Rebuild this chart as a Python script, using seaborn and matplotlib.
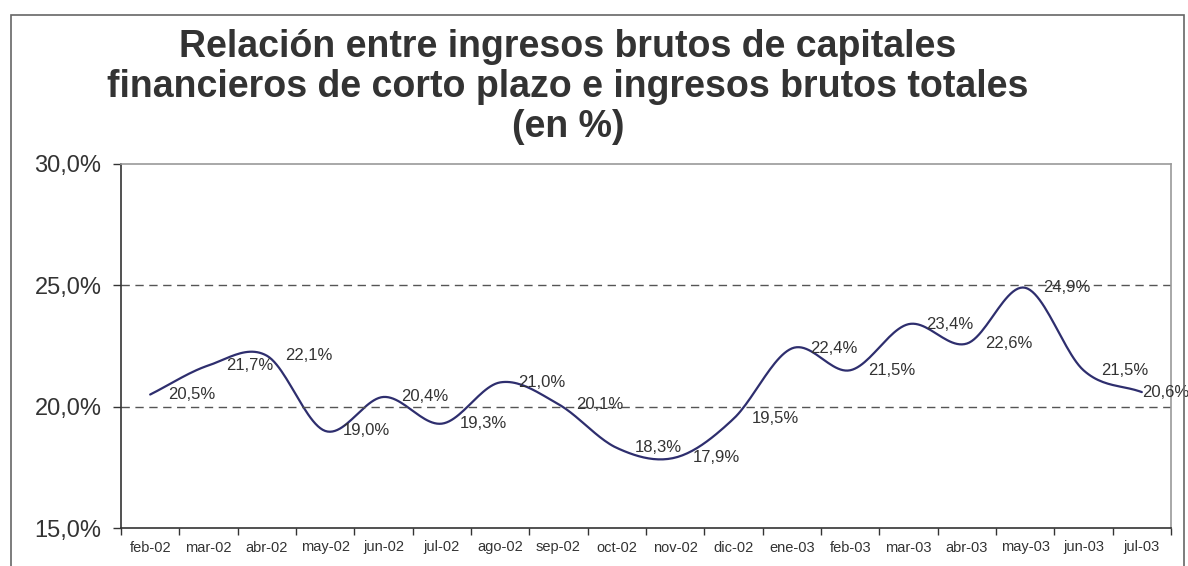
import numpy as np
import pandas as pd
import matplotlib
matplotlib.use('Agg')
import matplotlib.pyplot as plt
from matplotlib.ticker import FuncFormatter, FixedLocator
from matplotlib.patches import Rectangle
import seaborn as sns

# datos
meses = ['feb-02', 'mar-02', 'abr-02', 'may-02', 'jun-02', 'jul-02', 'ago-02', 'sep-02',
         'oct-02', 'nov-02', 'dic-02', 'ene-03', 'feb-03', 'mar-03', 'abr-03', 'may-03',
         'jun-03', 'jul-03']
relacion = [20.5, 21.7, 22.1, 19.0, 20.4, 19.3, 21.0, 20.1, 18.3, 17.9, 19.5, 22.4,
            21.5, 23.4, 22.6, 24.9, 21.5, 20.6]

titulo = 'Relación entre ingresos brutos de capitales\nfinancieros de corto plazo e ingresos brutos totales\n(en %)'

sns.set_style('white')
plt.rcParams['font.family'] = ['Liberation Sans', 'DejaVu Sans']

color_linea = '#2e2e6e'
color_texto = '#333333'


# linea suavizada tipo excel (catmull-rom entre los puntos)
def suavizar(x, y, n=24):
    x = np.asarray(x, float)
    y = np.asarray(y, float)
    px = np.concatenate([[2 * x[0] - x[1]], x, [2 * x[-1] - x[-2]]])
    py = np.concatenate([[2 * y[0] - y[1]], y, [2 * y[-1] - y[-2]]])
    xs, ys = [], []
    t = np.linspace(0, 1, n, endpoint=False)
    for i in range(1, len(px) - 2):
        for p, out in ((px, xs), (py, ys)):
            p0, p1, p2, p3 = p[i - 1], p[i], p[i + 1], p[i + 2]
            out.extend(0.5 * ((2 * p1) + (-p0 + p2) * t
                              + (2 * p0 - 5 * p1 + 4 * p2 - p3) * t ** 2
                              + (-p0 + 3 * p1 - 3 * p2 + p3) * t ** 3))
    xs.append(x[-1])
    ys.append(y[-1])
    return pd.DataFrame({'x': xs, 'y': ys})


pos = np.arange(len(meses))
curva = suavizar(pos, relacion)

fig = plt.figure(figsize=(11.88, 5.66), dpi=100)
ax = fig.add_axes([121 / 1188, 1 - 528 / 566, (1171 - 121) / 1188, (528 - 164) / 566])

sns.lineplot(data=curva, x='x', y='y', ax=ax, color=color_linea, linewidth=1.6,
             sort=False, estimator=None)

# etiquetas de datos
for i, v in enumerate(relacion):
    dx = 0 if i == len(relacion) - 1 else 13
    ax.annotate(f'{v:.1f}%'.replace('.', ','), (pos[i], v), xytext=(dx, 0),
                textcoords='offset points', ha='left', va='center',
                fontsize=12, color=color_texto)

ax.set_xlim(-0.5, len(meses) - 0.5)
ax.set_ylim(15, 30)
ax.set_xlabel('')
ax.set_ylabel('')

# eje y
ax.yaxis.set_major_locator(FixedLocator([15, 20, 25, 30]))
ax.yaxis.set_major_formatter(FuncFormatter(lambda v, p: f'{v:.1f}%'.replace('.', ',')))
ax.tick_params(axis='y', direction='out', length=6, width=1, color=color_texto,
               labelsize=17, labelcolor=color_texto, pad=8, left=True)
for g in [20, 25]:
    ax.axhline(g, color='#555555', linestyle=(0, (6, 4)), linewidth=1)

# eje x de categorias
ax.xaxis.set_major_locator(FixedLocator(np.arange(-0.5, len(meses), 1)))
ax.xaxis.set_major_formatter(FuncFormatter(lambda v, p: ''))
ax.set_xticks(pos, minor=True)
ax.set_xticklabels(meses, minor=True)
ax.tick_params(axis='x', which='major', direction='out', length=5, width=1,
               color=color_texto, bottom=True)
ax.tick_params(axis='x', which='minor', length=0, labelsize=10.5,
               labelcolor=color_texto, pad=9)

for lado in ['left', 'bottom']:
    ax.spines[lado].set_color('#333333')
    ax.spines[lado].set_linewidth(1.2)
for lado in ['top', 'right']:
    ax.spines[lado].set_color('#999999')
    ax.spines[lado].set_linewidth(1.2)

fig.text(568 / 1188, 1 - 87 / 566, titulo, ha='center', va='center',
         fontsize=27, fontweight='bold', color=color_texto, linespacing=1.15)

# marco del grafico
fig.patches.append(Rectangle((11 / 1188, -0.2), (1184 - 11) / 1188, 1.2 - 15 / 566,
                             transform=fig.transFigure, fill=False,
                             edgecolor='#666666', linewidth=1.2))

fig.savefig('out.png', dpi=100, facecolor='white')
plt.close(fig)
